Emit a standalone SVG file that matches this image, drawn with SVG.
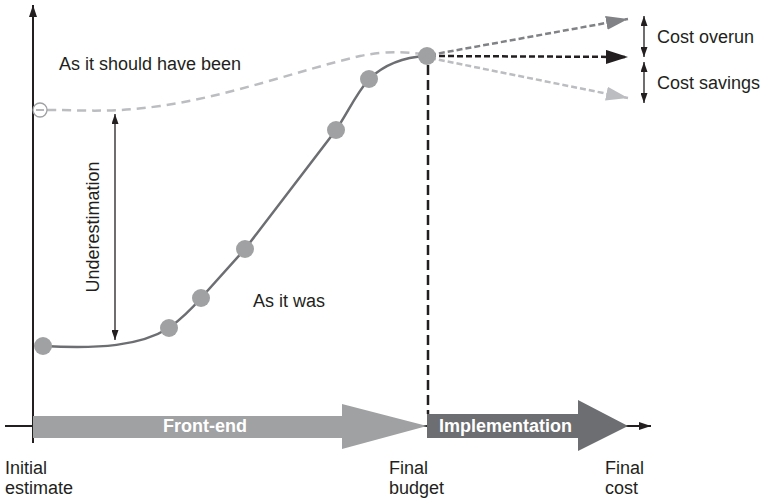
<svg xmlns="http://www.w3.org/2000/svg" width="769" height="500" viewBox="0 0 769 500">
  <style>
    text { font-family: "Liberation Sans", Arial, sans-serif; font-size: 18px; fill: #231f20; }
    .bar { font-weight: bold; fill: #ffffff; }
    .axis { stroke: #231f20; stroke-width: 2; fill: none; }
    .dot { fill: #a0a1a3; }
    .thin { stroke: #231f20; stroke-width: 1.3; fill: none; }
  </style>
  <defs>
    <marker id="axisHead" viewBox="0 0 12 8" refX="12" refY="4" markerWidth="12" markerHeight="8" markerUnits="userSpaceOnUse" orient="auto">
      <path d="M0,0 L12,4 L0,8 Z" fill="#231f20"/>
    </marker>
    <marker id="smallHead" viewBox="0 0 10 7" refX="10" refY="3.5" markerWidth="10" markerHeight="7" markerUnits="userSpaceOnUse" orient="auto-start-reverse">
      <path d="M0,0 L10,3.5 L0,7 Z" fill="#231f20"/>
    </marker>
    <marker id="headDark" viewBox="0 0 22 14" refX="22" refY="7" markerWidth="22" markerHeight="14" markerUnits="userSpaceOnUse" orient="auto">
      <path d="M0,0 L22,7 L0,14 Z" fill="#808285"/>
    </marker>
    <marker id="headBlack" viewBox="0 0 22 14" refX="22" refY="7" markerWidth="22" markerHeight="14" markerUnits="userSpaceOnUse" orient="auto">
      <path d="M0,0 L22,7 L0,14 Z" fill="#231f20"/>
    </marker>
    <marker id="headLight" viewBox="0 0 22 14" refX="22" refY="7" markerWidth="22" markerHeight="14" markerUnits="userSpaceOnUse" orient="auto">
      <path d="M0,0 L22,7 L0,14 Z" fill="#bcbdc0"/>
    </marker>
  </defs>

  <!-- axes -->
  <g id="axes">
    <line class="axis" x1="5" y1="426" x2="651" y2="426" marker-end="url(#axisHead)"/>
    <line class="axis" x1="33" y1="443" x2="33" y2="5" marker-end="url(#axisHead)"/>
  </g>

  <!-- phase arrows -->
  <g id="front-end">
    <path d="M33,416 L342,416 L342,404 L427,426 L342,449 L342,438 L33,438 Z" fill="#a0a1a3"/>
    <text class="bar" x="163" y="432">Front-end</text>
  </g>
  <g id="implementation">
    <path d="M427,414 L578,414 L578,400 L628,426 L578,451 L578,438 L427,438 Z" fill="#6d6e71"/>
    <text class="bar" x="439" y="432">Implementation</text>
  </g>

  <g id="connectors">
    <!-- final budget marker -->
    <line x1="428" y1="50" x2="428" y2="414" stroke="#231f20" stroke-width="2.5" stroke-dasharray="10,5"/>
    <!-- planned path -->
    <path d="M47,110 C 90,110 110,113 160,106 C 230,96 300,70 360,56 C 390,50 410,52 426,55" fill="none" stroke="#bcbdc0" stroke-width="2.5" stroke-dasharray="9,6"/>
    <!-- actual path -->
    <path d="M43,346 C 100,349 140,346 169,328 C 185,316 195,305 201,298 L 245,249 L 336,130 C 348,112 356,94 369,79 C 385,64 405,57 426,56" fill="none" stroke="#6d6e71" stroke-width="2.5"/>
    <!-- underestimation span -->
    <line class="thin" x1="115" y1="114" x2="115" y2="340" marker-start="url(#smallHead)" marker-end="url(#smallHead)"/>
    <!-- outcome arrows -->
    <line x1="430" y1="55" x2="628" y2="19" stroke="#808285" stroke-width="2.5" stroke-dasharray="6,3" marker-end="url(#headDark)"/>
    <line x1="430" y1="56" x2="628" y2="57" stroke="#231f20" stroke-width="2.5" stroke-dasharray="6,3" marker-end="url(#headBlack)"/>
    <line x1="430" y1="58" x2="628" y2="98" stroke="#bcbdc0" stroke-width="2.5" stroke-dasharray="6,3" marker-end="url(#headLight)"/>
    <!-- overrun / savings spans -->
    <line class="thin" x1="644" y1="16" x2="644" y2="57" marker-start="url(#smallHead)" marker-end="url(#smallHead)"/>
    <line class="thin" x1="644" y1="62" x2="644" y2="103" marker-start="url(#smallHead)" marker-end="url(#smallHead)"/>
  </g>

  <!-- start of planned path -->
  <g id="planned-start">
    <circle cx="40" cy="110" r="7" fill="#ffffff" stroke="#a0a1a3" stroke-width="1.3"/>
    <line x1="36" y1="110" x2="44" y2="110" stroke="#a0a1a3" stroke-width="1.5"/>
  </g>

  <!-- milestones on the actual path -->
  <g id="milestones">
    <circle class="dot" cx="43" cy="346" r="9"/>
    <circle class="dot" cx="169" cy="328" r="9"/>
    <circle class="dot" cx="201" cy="298" r="9"/>
    <circle class="dot" cx="245" cy="249" r="9"/>
    <circle class="dot" cx="336" cy="130" r="9"/>
    <circle class="dot" cx="369" cy="79" r="9"/>
    <circle class="dot" cx="427" cy="56" r="9"/>
  </g>

  <g id="labels">
    <text x="59" y="70">As it should have been</text>
    <text x="253" y="307">As it was</text>
    <text transform="translate(99,227) rotate(-90)" text-anchor="middle">Underestimation</text>
    <text x="657" y="43">Cost overun</text>
    <text x="657" y="89">Cost savings</text>
    <text x="5" y="474">Initial</text>
    <text x="5" y="494">estimate</text>
    <text x="389" y="474">Final</text>
    <text x="389" y="494">budget</text>
    <text x="605" y="474">Final</text>
    <text x="605" y="494">cost</text>
  </g>
</svg>
